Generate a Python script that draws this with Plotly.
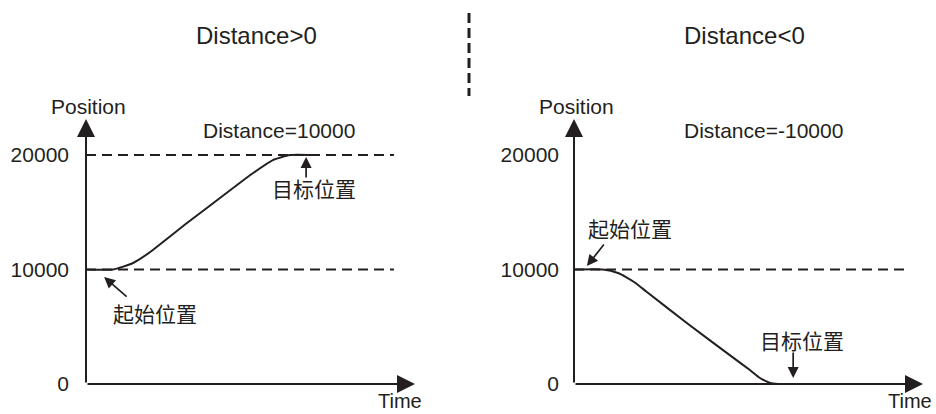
import plotly.graph_objects as go

# ---- data ----
tick_vals = [0, 10000, 20000]
tick_text = ["0", "10000", "20000"]

left_time = [0, 8.2, 14.3, 19.5, 30.7, 44.7, 50.8, 56.8, 62, 69]
left_pos = [10000, 10000, 10570, 11530, 14060, 17120, 18430, 19560, 20000, 20000]

right_time = [0, 8.3, 12.6, 14.9, 17.2, 20.9, 32.7, 45.6, 50.4, 53.3, 56.2, 58.5, 62]
right_pos = [10000, 10000, 9700, 9345, 8909, 8035, 5240, 2300, 1223, 524, 87, 0, 0]

left_dash_levels = [10000, 20000]
right_dash_levels = [10000]

titles = ["Distance>0", "Distance<0"]
dist_labels = ["Distance=10000", "Distance=-10000"]
start_label = "起始位置"
target_label = "目标位置"
y_title = "Position"
x_title = "Time"

W, H = 936, 414
INK = "#231f20"
FONT = "Liberation Sans, Arial, sans-serif"
CJK = "Noto Sans CJK SC"

YMAX = 23150
XMAX = 100


def py(p):  # pixel y -> paper
    return (H - p) / H


fig = go.Figure()

line_style = dict(color=INK, width=2, shape="spline", smoothing=0.5)
dash_style = dict(color=INK, width=2, dash="10px,6px")

fig.add_trace(go.Scatter(x=left_time, y=left_pos, mode="lines", line=line_style,
                         xaxis="x", yaxis="y", cliponaxis=False, hoverinfo="skip"))
for lv in left_dash_levels:
    fig.add_trace(go.Scatter(x=[0, 93.6], y=[lv, lv], mode="lines", line=dash_style,
                             xaxis="x", yaxis="y", cliponaxis=False, hoverinfo="skip"))
fig.add_trace(go.Scatter(x=right_time, y=right_pos, mode="lines", line=line_style,
                         xaxis="x2", yaxis="y2", cliponaxis=False, hoverinfo="skip"))
for lv in right_dash_levels:
    fig.add_trace(go.Scatter(x=[0, 94.8], y=[lv, lv], mode="lines", line=dash_style,
                             xaxis="x2", yaxis="y2", cliponaxis=False, hoverinfo="skip"))

ann = []


def arrow(xr, yr, x0, y0, x1, y1, w, s):
    ann.append(dict(xref=xr, yref=yr, axref=xr, ayref=yr, x=x1, y=y1, ax=x0, ay=y0, text="",
                    showarrow=True, arrowhead=2, arrowwidth=w, arrowsize=s, arrowcolor=INK,
                    standoff=0, startstandoff=0))


def text(xr, yr, x, y, t, size, font=FONT):
    ann.append(dict(xref=xr, yref=yr, x=x, y=y, text=t, showarrow=False,
                    font=dict(family=font, size=size, color=INK), xanchor="center", yanchor="middle"))


def ptext(px, pyy, t, size, font=FONT, xanchor="center"):
    ann.append(dict(xref="paper", yref="paper", x=px / W, y=py(pyy), text=t, showarrow=False,
                    font=dict(family=font, size=size, color=INK), xanchor=xanchor, yanchor="middle"))


# axes arrows
for xr, yr in [("x", "y"), ("x2", "y2")]:
    arrow(xr, yr, 0, 0, 0, YMAX, 2, 1.8)
    arrow(xr, yr, 0, 0, XMAX, 0, 2, 1.8)

# left panel text
ptext(88, 106, y_title, 21)
text("x", "y", 58.7, 22184, dist_labels[0], 21)
text("x", "y", 69.3, 17119, target_label, 21, CJK)
arrow("x", "y", 66.9, 17900, 66.9, 19826, 1.7, 1.3)
text("x", "y", 21, 6201, start_label, 21, CJK)
arrow("x", "y", 12.8, 7511, 5.5, 9345, 1.7, 1.3)
ptext(400, 401, x_title, 20)

# right panel text
ptext(576, 106, y_title, 21)
text("x2", "y2", 54.2, 22184, dist_labels[1], 21)
text("x2", "y2", 16, 13625, start_label, 21, CJK)
arrow("x2", "y2", 8.9, 12315, 3.7, 10306, 1.7, 1.3)
text("x2", "y2", 65.3, 3843, target_label, 21, CJK)
arrow("x2", "y2", 62.8, 2882, 62.8, 524, 1.7, 1.3)
ptext(934, 401, x_title, 20, xanchor="right")

# titles
for cx, t in zip([256, 744], titles):
    ptext(cx, 35, t, 24)

axis_common = dict(showgrid=False, zeroline=False, showline=False, fixedrange=True, automargin=False)

fig.update_layout(
    width=W, height=H, margin=dict(l=0, r=0, t=0, b=0, pad=0),
    paper_bgcolor="white", plot_bgcolor="white", showlegend=False,
    annotations=ann,
    shapes=[dict(type="line", xref="paper", yref="paper", x0=469 / W, x1=469 / W, y0=py(13), y1=py(96),
                 line=dict(color=INK, width=3, dash="10px,5px"))],
    xaxis=dict(domain=[86 / W, 415 / W], range=[0, XMAX], showticklabels=False, anchor="y", **axis_common),
    yaxis=dict(domain=[py(384), py(119)], range=[0, YMAX], tickvals=tick_vals, ticktext=tick_text,
               ticks="", ticklabelstandoff=16, tickfont=dict(family=FONT, size=21, color=INK), anchor="x", **axis_common),
    xaxis2=dict(domain=[574 / W, 923 / W], range=[0, XMAX], showticklabels=False, anchor="y2", **axis_common),
    yaxis2=dict(domain=[py(384), py(119)], range=[0, YMAX], tickvals=tick_vals, ticktext=tick_text,
                ticks="", ticklabelstandoff=14, tickfont=dict(family=FONT, size=21, color=INK), anchor="x2", **axis_common),
)

fig.write_html("out.html", config={"responsive": False, "displayModeBar": False},
               post_script="document.body.style.margin='0';document.body.style.overflow='hidden';")
